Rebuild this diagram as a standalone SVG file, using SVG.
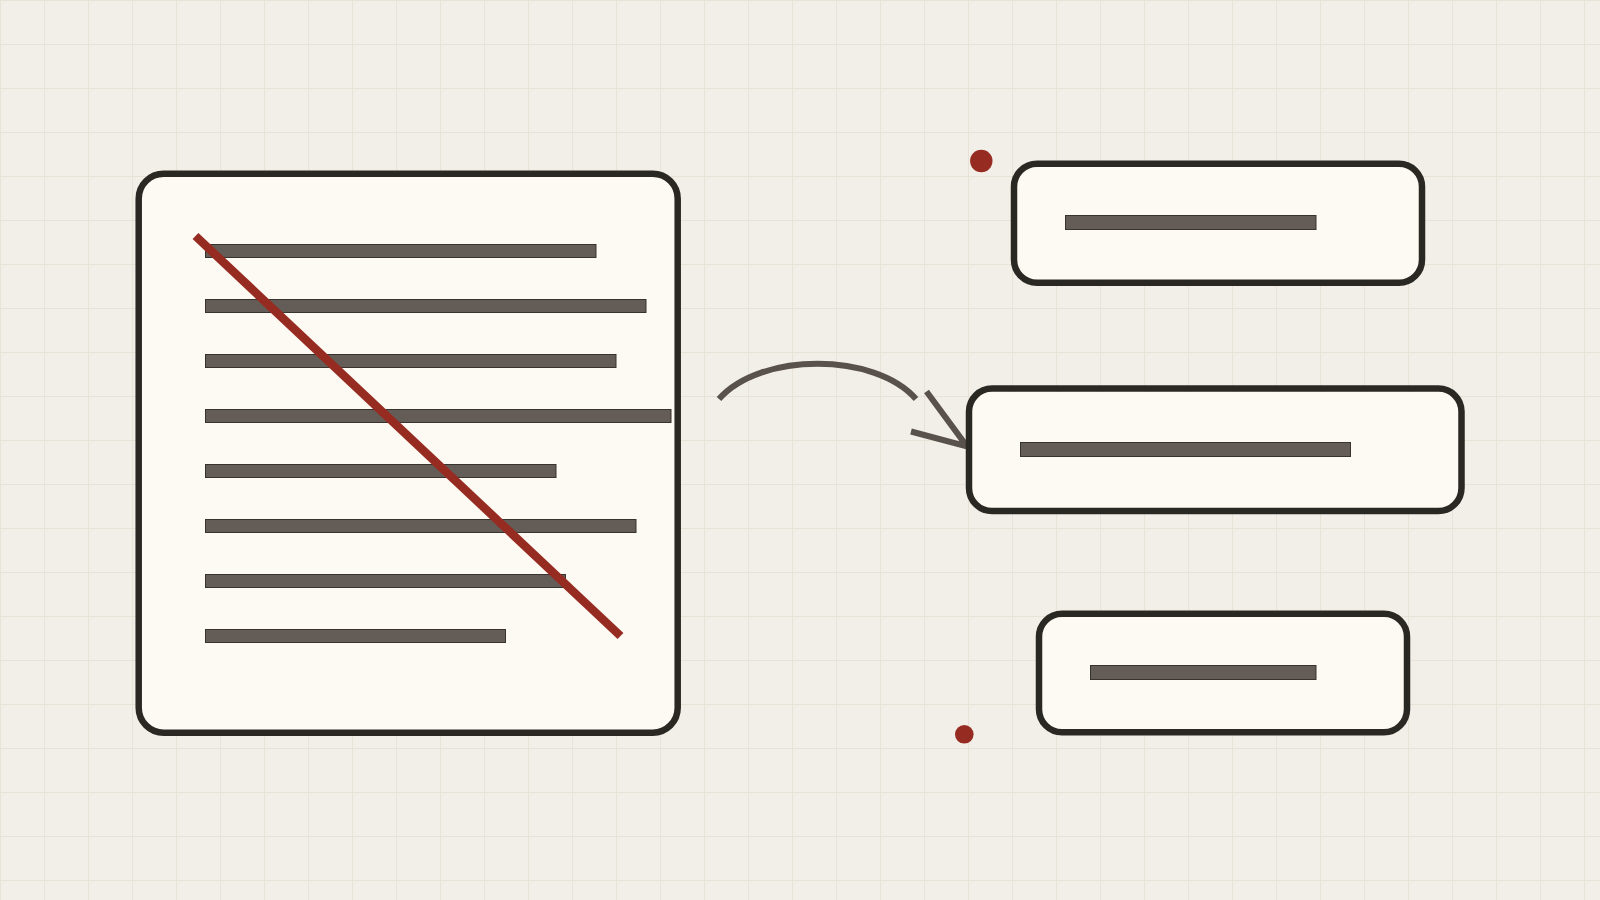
<svg xmlns="http://www.w3.org/2000/svg" width="1600" height="900" viewBox="0 0 1600 900">
  <defs>
    <pattern id="grid" x="0" y="0" width="44" height="44" patternUnits="userSpaceOnUse">
      <rect x="0" y="0" width="44" height="44" fill="#f2efe8"/>
      <rect x="0" y="0" width="44" height="1" fill="#e8e3d6"/>
      <rect x="0" y="0" width="1" height="44" fill="#e8e3d6"/>
    </pattern>
    <style>
      .card { fill: #fdfaf3; stroke: #2a2823; stroke-width: 6.5; }
      .bar { fill: #645c56; stroke: #38332e; stroke-width: 1; }
      .conn { fill: none; stroke: #59524c; stroke-width: 6; stroke-linecap: butt; }
      .dot { fill: #962b22; }
    </style>
  </defs>
  <rect x="0" y="0" width="1600" height="900" fill="url(#grid)"/>

  <g id="document">
    <rect class="card" x="138.7" y="173.7" width="539" height="559" rx="25" ry="25"/>
    <rect class="bar" x="205.5" y="244.5" width="390.5" height="13"/>
    <rect class="bar" x="205.5" y="299.5" width="440.5" height="13"/>
    <rect class="bar" x="205.5" y="354.5" width="410.5" height="13"/>
    <rect class="bar" x="205.5" y="409.5" width="465.5" height="13"/>
    <rect class="bar" x="205.5" y="464.5" width="350.5" height="13"/>
    <rect class="bar" x="205.5" y="519.5" width="430.5" height="13"/>
    <rect class="bar" x="205.5" y="574.5" width="360" height="13"/>
    <rect class="bar" x="205.5" y="629.5" width="300" height="13"/>
    <line x1="195.5" y1="236" x2="620.5" y2="636" stroke="#962b22" stroke-width="8.5"/>
  </g>

  <g id="connectors">
    <path class="conn" d="M719,399 C760,352 875,352 916,399"/>
    <path class="conn" d="M926.5,391.5 L967,446.5 L911,431.5"/>
  </g>

  <g id="card-top">
    <rect class="card" x="1014" y="163.7" width="408" height="119" rx="23" ry="23"/>
    <rect class="bar" x="1065.5" y="215.5" width="250.5" height="14"/>
  </g>

  <g id="card-middle">
    <rect class="card" x="969" y="388.6" width="492.5" height="122.4" rx="23" ry="23"/>
    <rect class="bar" x="1020.5" y="442.5" width="330" height="14"/>
  </g>

  <g id="card-bottom">
    <rect class="card" x="1039" y="613.7" width="368" height="118.6" rx="23" ry="23"/>
    <rect class="bar" x="1090.5" y="665.5" width="225.5" height="14"/>
  </g>

  <g id="dot-top">
    <circle class="dot" cx="981.3" cy="161" r="11.2"/>
  </g>
  <g id="dot-bottom">
    <circle class="dot" cx="964.3" cy="734.3" r="9.3"/>
  </g>
</svg>
